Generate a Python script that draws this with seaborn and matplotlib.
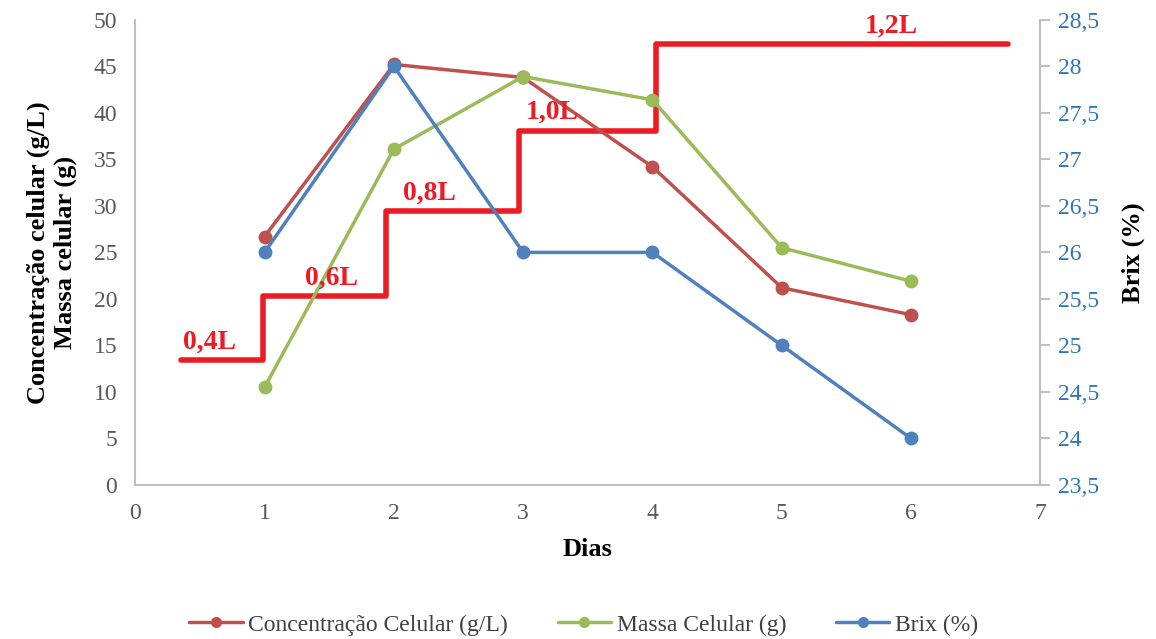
import matplotlib
matplotlib.use("Agg")
import matplotlib.pyplot as plt
import seaborn as sns
import pandas as pd

dias = [1, 2, 3, 4, 5, 6]
concentracao = [26.7, 45.2, 43.8, 34.2, 21.2, 18.3]
massa = [10.5, 36.1, 43.9, 41.4, 25.5, 21.9]
brix = [26.0, 28.0, 26.0, 26.0, 25.0, 24.0]

# volume steps (drawn on the left axis scale)
volume_x = [0.35, 0.99, 1.94, 2.97, 4.03, 6.75]
volume_y = [13.4, 20.3, 29.4, 38.1, 47.4, 47.4]
volume_labels = ["0,4L", "0,6L", "0,8L", "1,0L", "1,2L"]
label_x = [0.37, 1.31, 2.07, 3.02, 5.64]
label_y = [14.0, 20.9, 30.0, 38.7, 48.0]

c_red = "#C0504D"
c_green = "#9BBB59"
c_blue = "#4F81BD"
c_step = "#ED1C24"

sns.set_theme(style="white")
plt.rcParams['font.family'] = ['Liberation Serif', 'DejaVu Serif']

df = pd.DataFrame({"Dias": dias, "conc": concentracao, "massa": massa, "brix": brix})

fig = plt.figure(figsize=(11.56, 6.39), dpi=100)
ax = fig.add_axes([0.117, 0.241, 0.783, 0.728])
ax2 = ax.twinx()

sns.lineplot(data=df, x="Dias", y="conc", ax=ax, color=c_red, marker="o",
             markersize=10, markeredgewidth=0, linewidth=2.5,
             label="Concentração Celular (g/L)", legend=False)
sns.lineplot(data=df, x="Dias", y="massa", ax=ax, color=c_green, marker="o",
             markersize=10, markeredgewidth=0, linewidth=2.5,
             label="Massa Celular (g)", legend=False)
sns.lineplot(data=df, x="Dias", y="brix", ax=ax2, color=c_blue, marker="o",
             markersize=10, markeredgewidth=0, linewidth=2.5,
             label="Brix (%)", legend=False)

ax.step(volume_x, volume_y, where="post", color=c_step, linewidth=4, zorder=1)
for lx, ly, lt in zip(label_x, label_y, volume_labels):
    ax.text(lx, ly, lt, color=c_step, fontsize=20, fontweight="bold",
            ha="left", va="bottom")

ax.set_xlim(0, 7)
ax.set_ylim(0, 50)
ax.set_yticks(range(0, 51, 5))
ax.set_xticks(range(0, 8))
ax2.set_ylim(23.5, 28.5)
ax2.set_yticks([23.5 + 0.5 * i for i in range(11)])
ax2.set_yticklabels([f"{23.5 + 0.5 * i:g}".replace(".", ",") for i in range(11)])

for a in (ax, ax2):
    for s in a.spines.values():
        s.set_visible(False)
ax.spines["left"].set_visible(True)
ax.spines["bottom"].set_visible(True)
ax2.spines["right"].set_visible(True)
for s in (ax.spines["left"], ax.spines["bottom"], ax2.spines["right"]):
    s.set_color("#BFBFBF")
    s.set_linewidth(1.5)

ax.tick_params(axis="both", labelsize=17, colors="#595959", length=0, pad=13)
ax2.tick_params(axis="y", labelsize=17, colors="#2E75B6", length=7,
                color="#BFBFBF", width=1.5, pad=6)
ax.grid(False)
ax2.grid(False)

ax.set_xlabel("Dias", fontsize=19, fontweight="bold", color="black", labelpad=10)
ax.set_ylabel("Concentração celular (g/L)\nMassa celular (g)", fontsize=19,
              fontweight="bold", color="black", labelpad=12, linespacing=1.2)
ax2.set_ylabel("Brix (%)", fontsize=19, fontweight="bold", color="black",
               labelpad=16)

handles = ax.get_lines()[:2] + ax2.get_lines()[:1]
fig.legend(handles, ["Concentração Celular (g/L)", "Massa Celular (g)", "Brix (%)"],
           loc="center", bbox_to_anchor=(0.505, 0.022), ncol=3, frameon=False,
           fontsize=17, labelcolor="#404040", columnspacing=2.1,
           handlelength=2.25, handletextpad=0.25, markerscale=0.8)

fig.savefig("out.png", dpi=100)
